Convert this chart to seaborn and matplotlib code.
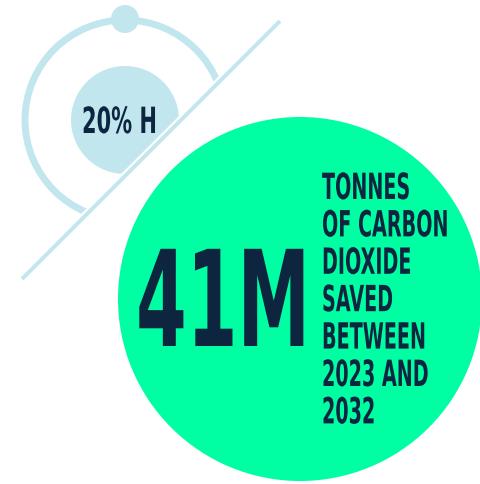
import matplotlib
matplotlib.use("Agg")
import matplotlib.pyplot as plt
import matplotlib.patheffects as pe
from matplotlib.patches import Circle, Polygon
from matplotlib.transforms import Affine2D, Bbox
import seaborn as sns

# Data
big_value = "41M"
caption_lines = ["TONNES", "OF CARBON", "DIOXIDE", "SAVED", "BETWEEN", "2023 AND", "2032"]
small_label = "20% H"

GREEN = "#00fea2"
LIGHT = "#c2e6ee"
NAVY = "#0e2540"

sns.set_theme(style="white")
plt.rcParams["font.family"] = ["DejaVu Sans"]


class Squeeze(pe.AbstractPathEffect):
    # narrow the glyphs horizontally, like a condensed display face
    def __init__(self, sx):
        super().__init__()
        self.sx = sx

    def draw_path(self, renderer, gc, tpath, affine, rgbFace=None):
        renderer.draw_path(gc, tpath, Affine2D().scale(self.sx, 1) + affine, rgbFace)


def condensed_text(x, y, s, sx, **kw):
    t = ax.text(x, y, s, ha="left", va="baseline", color=NAVY, fontweight="bold",
                path_effects=[Squeeze(sx)], **kw)
    full_extent = t.get_window_extent

    # report the narrowed box, so the extent matches what is drawn
    def extent(renderer=None, dpi=None):
        bb = full_extent(renderer, dpi)
        return Bbox.from_extents(bb.x0, bb.y0, bb.x0 + bb.width * sx, bb.y1)

    t.get_window_extent = extent
    return t


fig = plt.figure(figsize=(4.8, 4.85), dpi=100)
ax = fig.add_axes([0, 0, 1, 1])
ax.set_xlim(0, 480)
ax.set_ylim(485, 0)
ax.axis("off")

# -----------------------------------
# Top-left gauge (cut along the diagonal)
# -----------------------------------
fill = Circle((125, 121), 54, fc=LIGHT, ec="none")
ring = Circle((125, 121), 100, fc="none", ec=LIGHT, lw=5)
for p in (fill, ring):
    ax.add_patch(p)
    p.set_clip_path(Polygon([(-10, -10), (306, -10), (-10, 306)], transform=ax.transData))

ax.add_patch(Circle((125, 20), 14, fc=LIGHT, ec="none"))
ax.plot([22, 280], [280, 22], color=LIGHT, lw=2.8, solid_capstyle="butt")

condensed_text(82, 134, small_label, 0.58, fontsize=26)

# -----------------------------------
# Big green circle
# -----------------------------------
ax.add_patch(Circle((300, 300), 182, fc=GREEN, ec="none"))

condensed_text(136, 347, big_value, 0.547, fontsize=96)

for i, line in enumerate(caption_lines):
    condensed_text(322, 200 + i * 37.4, line, 0.53, fontsize=26)

fig.savefig("out.png", dpi=100)
